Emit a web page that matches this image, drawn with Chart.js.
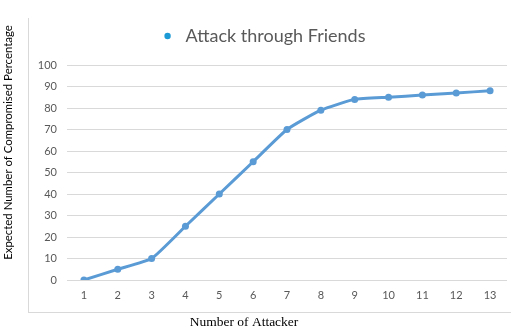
<!DOCTYPE html>
<html>
<head>
<meta charset="utf-8">
<script src="https://cdn.jsdelivr.net/npm/chart.js@4/dist/chart.umd.min.js"></script>
<style>
  html, body { margin: 0; padding: 0; background: #fff; }
  #wrap { position: relative; width: 511px; height: 328px; }
  #frame { position: absolute; left: 28px; top: 18px; width: 490px; height: 294px;
           border-left: 1px solid #d9d9d9; border-bottom: 1px solid #d9d9d9; }
  canvas { position: absolute; left: 0; top: 0; }
</style>
</head>
<body>
<div id="wrap">
  <div id="frame"></div>
  <canvas id="carta_attack" width="511" height="328"></canvas>
</div>
<script>
// number of attackers on x, compromised percentage on y
const attackers = ["1", "2", "3", "4", "5", "6", "7", "8", "9", "10", "11", "12", "13"]
const compromised = [0, 5, 10, 25, 40, 55, 70, 79, 84, 85, 86, 87, 88]
const seriesName = "Attack through Friends"
const xTitle = "Number of Attacker"
const yTitle = "Expected Number of Compromised Percentage"

const lineBlue = "#5b9bd5"
const tickGrey = "#595959"

// the axis titles sit on the outer frame (Excel style), not on the plot area
const frameTitles = {
    id: "frameTitles",
    beforeLayout(chart) {
        // give the legend some extra room underneath
        const lg = chart.legend
        if (lg && !lg._extraRoom) {
            const fit = lg.fit.bind(lg)
            lg.fit = function () { fit(); this.height += 10 }
            lg._extraRoom = true
        }
    },
    afterUpdate(chart) {
        // nudge the legend a bit right, like the original
        chart.legend.left += 8
        chart.legend.right += 8
    },
    afterDraw(chart) {
        const ctx = chart.ctx
        ctx.save()
        ctx.fillStyle = "#000"
        ctx.textAlign = "center"
        ctx.textBaseline = "middle"
        ctx.font = "13.5px 'Liberation Serif'"
        ctx.fillText(xTitle, 244, 322)
        ctx.translate(8, 142.5)
        ctx.rotate(-Math.PI / 2)
        ctx.font = "11.4px Lato"
        ctx.fillText(yTitle, 0, 0)
        ctx.restore()
    }
}

const carta_attack = document.getElementById("carta_attack")
new Chart(carta_attack, {
    type: "line",
    data: {
        labels: attackers,
        datasets: [{
            label: seriesName,
            data: compromised,
            borderColor: lineBlue,
            backgroundColor: lineBlue,
            borderWidth: 3,
            pointRadius: 3.5,
            pointBackgroundColor: lineBlue,
            pointBorderWidth: 0,
            tension: 0.15
        }]
    },
    options: {
        responsive: false,
        animation: false,
        layout: {
            padding: { top: 5, left: 0, right: 3, bottom: 0 }
        },
        plugins: {
            legend: {
                position: "top",
                labels: {
                    usePointStyle: true,
                    pointStyle: "circle",
                    boxWidth: 18,
                    boxHeight: 4.5,
                    padding: 22,
                    color: tickGrey,
                    font: { family: "Lato", size: 18 },
                    generateLabels: chart => [{
                        text: seriesName,
                        fillStyle: "#1b9ad6",
                        strokeStyle: "#1b9ad6",
                        lineWidth: 0,
                        pointStyle: "circle",
                        fontColor: tickGrey
                    }]
                }
            },
            tooltip: { enabled: false }
        },
        scales: {
            x: {
                offset: true,
                grid: { display: false, drawTicks: false },
                border: { display: false },
                ticks: {
                    color: tickGrey,
                    padding: 9,
                    font: { family: "Lato", size: 11 }
                },
                afterFit: scale => { scale.height = 48 }
            },
            y: {
                min: 0,
                max: 100,
                grid: { color: "#d9d9d9", drawTicks: false },
                border: { display: false },
                ticks: {
                    stepSize: 10,
                    color: tickGrey,
                    padding: 10,
                    font: { family: "Lato", size: 11 }
                },
                afterFit: scale => { scale.width = 67 }
            }
        }
    },
    plugins: [frameTitles]
});
</script>
</body>
</html>
